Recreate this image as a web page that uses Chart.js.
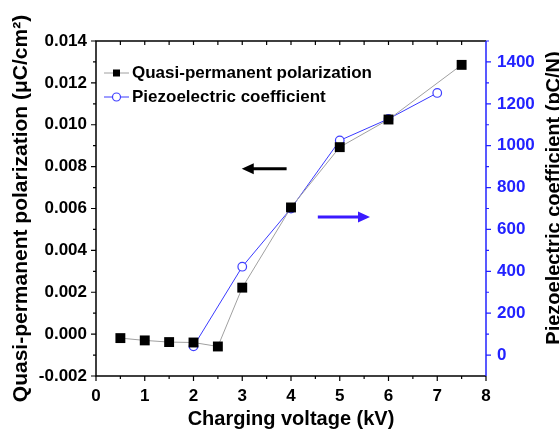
<!DOCTYPE html>
<html>
<head>
<meta charset="utf-8">
<script src="https://cdn.jsdelivr.net/npm/chart.js@4/dist/chart.umd.min.js"></script>
<style>
  html, body { margin: 0; padding: 0; background: #fff; }
  #wrap { width: 559px; height: 432px; }
</style>
</head>
<body>
<div id="wrap"><canvas id="chart" width="559" height="432"></canvas></div>
<script>
// quasi-permanent polarization vs charging voltage (left axis)
const voltage = [0.5, 1, 1.5, 2, 2.5, 3, 4, 5, 6, 7.5];
const polarization = [-0.00019, -0.0003, -0.00038, -0.0004, -0.00059, 0.00222, 0.00605, 0.00893, 0.01025, 0.01286];

// piezoelectric coefficient vs charging voltage (right axis)
const piezoVoltage = [2, 3, 4, 5, 6, 7];
const piezo = [42, 422, 700, 1025, 1128, 1252];

// axis ticks
const xTicks = [0, 1, 2, 3, 4, 5, 6, 7, 8];
const leftTicks = [-0.002, 0, 0.002, 0.004, 0.006, 0.008, 0.010, 0.012, 0.014];
const rightTicks = [0, 200, 400, 600, 800, 1000, 1200, 1400];

const seriesNames = ['Quasi-permanent polarization', 'Piezoelectric coefficient'];

const FONT = "Arial, 'Liberation Sans', sans-serif";
const BLUE = '#2222ff';

const toPoints = (xs, ys) => xs.map((x, i) => ({ x: x, y: ys[i] }));
const setTicks = list => scale => { scale.ticks = list.map(v => ({ value: v })); };

// frame, minor ticks, arrows, legend and right-hand title
const decorations = {
    id: 'decorations',
    afterDatasetsDraw(chart) {
        const ctx = chart.ctx;
        const { left, right, top, bottom } = chart.chartArea;
        const x = chart.scales.x, y = chart.scales.y, y1 = chart.scales.y1;
        ctx.save();
        ctx.lineCap = 'butt';

        // black frame (left, bottom, top)
        ctx.strokeStyle = '#000';
        ctx.lineWidth = 1.5;
        ctx.beginPath();
        ctx.moveTo(right, top); ctx.lineTo(left, top);
        ctx.lineTo(left, bottom); ctx.lineTo(right, bottom);
        ctx.stroke();

        // x ticks: bottom outward, top inward
        ctx.lineWidth = 1.2;
        ctx.beginPath();
        for (let v = 0; v <= 8.001; v += 0.5) {
            const px = x.getPixelForValue(v);
            const major = Math.abs(v - Math.round(v)) < 1e-6;
            ctx.moveTo(px, bottom); ctx.lineTo(px, bottom + (major ? 5 : 3));
            if (v > 0 && v < 8) { ctx.moveTo(px, top); ctx.lineTo(px, top + 4); }
        }
        // left ticks outward
        for (let i = 0; i < leftTicks.length; i++) {
            const py = y.getPixelForValue(leftTicks[i]);
            ctx.moveTo(left, py); ctx.lineTo(left - 5, py);
            if (i < leftTicks.length - 1) {
                const pm = y.getPixelForValue((leftTicks[i] + leftTicks[i + 1]) / 2);
                ctx.moveTo(left, pm); ctx.lineTo(left - 3, pm);
            }
        }
        ctx.stroke();

        // blue right axis
        ctx.strokeStyle = BLUE;
        ctx.lineWidth = 1.5;
        ctx.beginPath();
        ctx.moveTo(right, top); ctx.lineTo(right, bottom);
        ctx.stroke();
        ctx.lineWidth = 1.2;
        ctx.beginPath();
        rightTicks.forEach(v => {
            const py = y1.getPixelForValue(v);
            ctx.moveTo(right, py); ctx.lineTo(right + 5, py);
            const pm = y1.getPixelForValue(v + 100);
            ctx.moveTo(right, pm); ctx.lineTo(right + 3, pm);
        });
        ctx.stroke();

        // arrows pointing to each series' axis
        const arrow = (x0, x1, py, color) => {
            const p0 = x.getPixelForValue(x0), p1 = x.getPixelForValue(x1);
            const dir = Math.sign(p1 - p0);
            ctx.strokeStyle = color; ctx.fillStyle = color; ctx.lineWidth = 3;
            ctx.beginPath();
            ctx.moveTo(p0, py); ctx.lineTo(p1 - dir * 10, py);
            ctx.stroke();
            ctx.beginPath();
            ctx.moveTo(p1, py);
            ctx.lineTo(p1 - dir * 12, py - 5.5);
            ctx.lineTo(p1 - dir * 12, py + 5.5);
            ctx.closePath();
            ctx.fill();
        };
        arrow(3.91, 2.99, y.getPixelForValue(0.0079), '#000');
        arrow(4.55, 5.62, y1.getPixelForValue(660), '#3a1aff');

        // legend
        ctx.font = 'bold 17px ' + FONT;
        ctx.textBaseline = 'middle';
        ctx.textAlign = 'left';
        chart.data.datasets.forEach((ds, i) => {
            const ly = 73 + i * 24;
            ctx.strokeStyle = ds.borderColor;
            ctx.lineWidth = 1;
            ctx.beginPath();
            ctx.moveTo(104, ly); ctx.lineTo(129, ly);
            ctx.stroke();
            if (ds.pointStyle === 'rect') {
                ctx.fillStyle = '#000';
                ctx.fillRect(113, ly - 3.5, 7, 7);
            } else {
                ctx.fillStyle = '#fff';
                ctx.strokeStyle = ds.pointBorderColor;
                ctx.lineWidth = 1.2;
                ctx.beginPath();
                ctx.arc(116.5, ly, 4, 0, Math.PI * 2);
                ctx.fill(); ctx.stroke();
            }
            ctx.fillStyle = '#000';
            ctx.fillText(seriesNames[i], 132, ly);
        });

        // right axis title, reading bottom to top
        ctx.font = 'bold 20px ' + FONT;
        ctx.textAlign = 'center';
        ctx.translate(554, 198);
        ctx.rotate(-Math.PI / 2);
        ctx.fillText('Piezoelectric coefficient (pC/N)', 0, 0);
        ctx.restore();
    }
};

new Chart(document.getElementById('chart'), {
    type: 'line',
    data: {
        datasets: [
            {
                label: seriesNames[0],
                data: toPoints(voltage, polarization),
                yAxisID: 'y',
                borderColor: '#a0a0a0',
                borderWidth: 1,
                pointStyle: 'rect',
                pointRadius: 7,
                pointBackgroundColor: '#000',
                pointBorderColor: '#000',
                pointBorderWidth: 0,
                tension: 0
            },
            {
                label: seriesNames[1],
                data: toPoints(piezoVoltage, piezo),
                yAxisID: 'y1',
                borderColor: '#3a3aff',
                borderWidth: 1,
                pointStyle: 'circle',
                pointRadius: 4.3,
                pointBackgroundColor: '#fff',
                pointBorderColor: '#4040ff',
                pointBorderWidth: 1.2,
                tension: 0
            }
        ]
    },
    options: {
        responsive: false,
        animation: false,
        layout: { padding: { top: 41, left: 0, right: 0, bottom: 0 } },
        plugins: { legend: { display: false }, tooltip: { enabled: false } },
        scales: {
            x: {
                type: 'linear',
                min: 0,
                max: 8,
                afterBuildTicks: setTicks(xTicks),
                afterFit: s => { s.height = 56; },
                grid: { display: false, drawTicks: false },
                border: { display: false },
                ticks: {
                    padding: 10,
                    color: '#000',
                    font: { family: FONT, size: 17, weight: 'bold' },
                    callback: v => String(v)
                },
                title: {
                    display: true,
                    text: 'Charging voltage (kV)',
                    color: '#000',
                    padding: { top: 0, bottom: 1 },
                    font: { family: FONT, size: 20, weight: 'bold' }
                }
            },
            y: {
                position: 'left',
                min: -0.002,
                max: 0.014,
                afterBuildTicks: setTicks(leftTicks),
                afterFit: s => { s.width = 96; },
                grid: { display: false, drawTicks: false },
                border: { display: false },
                ticks: {
                    padding: 9,
                    color: '#000',
                    font: { family: FONT, size: 17, weight: 'bold' },
                    callback: v => v.toFixed(3)
                },
                title: {
                    display: true,
                    text: 'Quasi-permanent polarization (\u03bcC/cm\u00b2)',
                    color: '#000',
                    padding: { top: 9, bottom: 0 },
                    font: { family: FONT, size: 21, weight: 'bold' }
                }
            },
            y1: {
                position: 'right',
                min: -100,
                max: 1500,
                afterBuildTicks: setTicks(rightTicks),
                afterFit: s => { s.width = 73; },
                grid: { display: false, drawTicks: false },
                border: { display: false },
                ticks: {
                    padding: 11,
                    color: BLUE,
                    font: { family: FONT, size: 17, weight: 'bold' },
                    callback: v => String(v)
                },
                title: { display: false }
            }
        }
    },
    plugins: [decorations]
});
</script>
</body>
</html>
